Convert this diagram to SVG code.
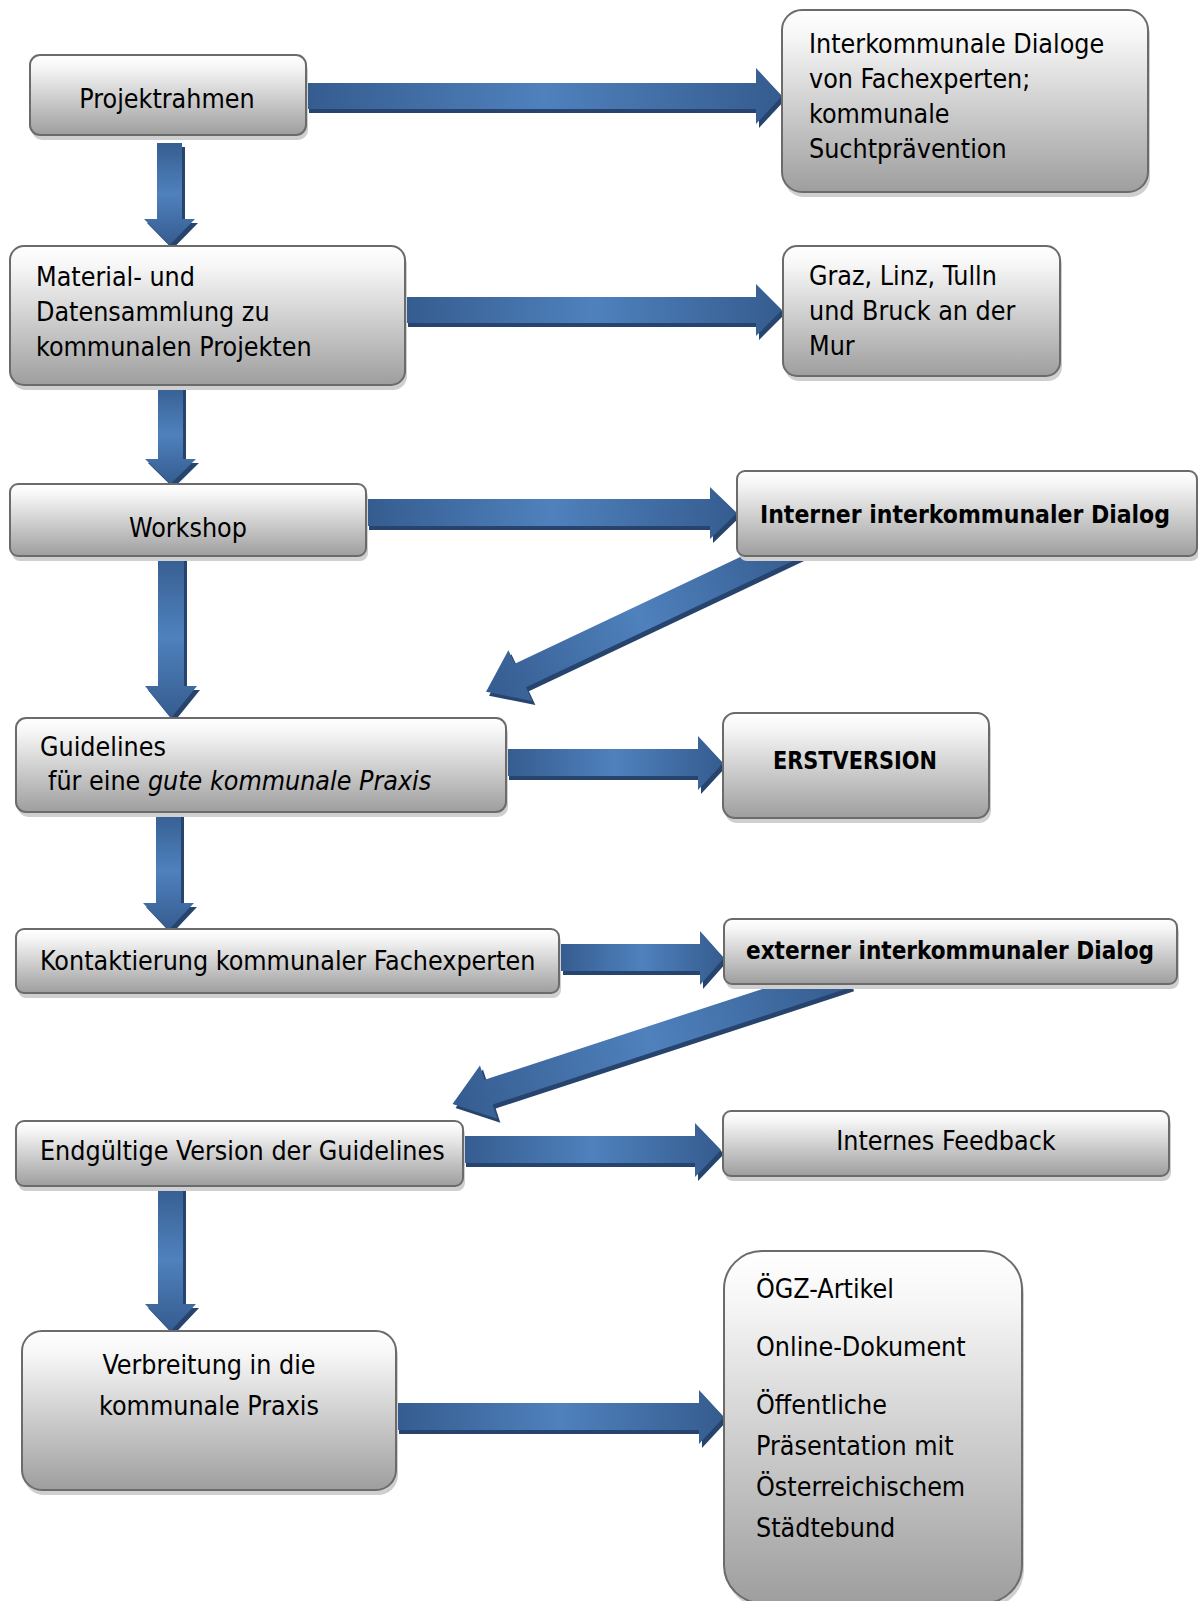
<svg xmlns="http://www.w3.org/2000/svg" width="1198" height="1601" viewBox="0 0 1198 1601">
<defs>
<linearGradient id="boxg" x1="0" y1="0" x2="0" y2="1">
<stop offset="0" stop-color="#ffffff"/>
<stop offset="0.15" stop-color="#f6f6f6"/>
<stop offset="1" stop-color="#9e9e9e"/>
</linearGradient>
<linearGradient id="gh" x1="0" y1="0" x2="1" y2="0">
<stop offset="0" stop-color="#355c8f"/>
<stop offset="0.5" stop-color="#4f81bd"/>
<stop offset="1" stop-color="#355c8f"/>
</linearGradient>
<linearGradient id="gv" x1="0" y1="0" x2="0" y2="1">
<stop offset="0" stop-color="#365e91"/>
<stop offset="0.5" stop-color="#4f81bd"/>
<stop offset="1" stop-color="#355c8f"/>
</linearGradient>
<style>
.box{fill:url(#boxg);stroke:#6b6b6b;stroke-width:2}
.sh{fill:#cfcfcf}
.ah{fill:url(#gh)}
.av{fill:url(#gv)}
.as{fill:#26446d}
text{font-family:"DejaVu Sans Condensed","DejaVu Sans",sans-serif;font-size:26.6px;fill:#000}
.b{font-weight:bold;font-size:25.5px}
.c{text-anchor:middle}
</style>
</defs>
<rect width="1198" height="1601" fill="#ffffff"/>

<g id="connectors">
<g transform="translate(3,4)" class="as">
<polygon points="306,83 756,83 756,68 782,96 756,124 756,109 306,109"/>
<polygon points="157,143 182,143 182,219 195,219 169.5,245 144,219 157,219"/>
<polygon points="405,297 756,297 756,284 782,310 756,336 756,323 405,323"/>
<polygon points="158,385 183,385 183,459 196,459 170.5,484 145,459 158,459"/>
<polygon points="366,499 710,499 710,487 737,513 710,539 710,526 366,526"/>
<polygon points="158,556 184,556 184,686 197,686 171,718 145,686 158,686"/>
<polygon points="506,749 698,749 698,736 723,763 698,790 698,776 506,776"/>
<polygon points="156,812 181,812 181,903 194,903 168.5,930 143,903 156,903"/>
<polygon points="560,944 700,944 700,931 724,958 700,985 700,971 560,971"/>
<polygon points="463,1136 695,1136 695,1123 721,1150 695,1177 695,1163 463,1163"/>
<polygon points="158,1187 183,1187 183,1304 196,1304 170.5,1331 145,1304 158,1304"/>
<polygon points="396,1403 699,1403 699,1390 724,1417 699,1444 699,1430 396,1430"/>
</g>
<g transform="translate(799,549) rotate(154.65)"><polygon class="as" points="0,-13 305,-13 305,-28 343,0 305,28 305,13 0,13"/></g>
<g transform="translate(850,979) rotate(161.9)"><polygon class="as" points="0,-13 377,-13 377,-28 415,0 377,28 377,13 0,13"/></g>

<polygon class="ah" points="306,83 756,83 756,68 782,96 756,124 756,109 306,109"/>
<polygon class="av" points="157,143 182,143 182,219 195,219 169.5,245 144,219 157,219"/>
<polygon class="ah" points="405,297 756,297 756,284 782,310 756,336 756,323 405,323"/>
<polygon class="av" points="158,385 183,385 183,459 196,459 170.5,484 145,459 158,459"/>
<polygon class="ah" points="366,499 710,499 710,487 737,513 710,539 710,526 366,526"/>
<polygon class="av" points="158,556 184,556 184,686 197,686 171,718 145,686 158,686"/>
<polygon class="ah" points="506,749 698,749 698,736 723,763 698,790 698,776 506,776"/>
<polygon class="av" points="156,812 181,812 181,903 194,903 168.5,930 143,903 156,903"/>
<polygon class="ah" points="560,944 700,944 700,931 724,958 700,985 700,971 560,971"/>
<polygon class="ah" points="463,1136 695,1136 695,1123 721,1150 695,1177 695,1163 463,1163"/>
<polygon class="av" points="158,1187 183,1187 183,1304 196,1304 170.5,1331 145,1304 158,1304"/>
<polygon class="ah" points="396,1403 699,1403 699,1390 724,1417 699,1444 699,1430 396,1430"/>
<g transform="translate(796,545) rotate(154.65)"><polygon class="ah" points="0,-13 305,-13 305,-28 343,0 305,28 305,13 0,13"/></g>
<g transform="translate(847,975) rotate(161.9)"><polygon class="ah" points="0,-13 377,-13 377,-28 415,0 377,28 377,13 0,13"/></g>
</g>

<g id="n1">
<rect class="sh" x="32" y="60" width="276" height="80" rx="10"/>
<rect class="box" x="30" y="55" width="276" height="80" rx="10"/>
<text class="c" x="167" y="108">Projektrahmen</text>
</g>
<g id="n2">
<rect class="sh" x="784" y="15" width="366" height="182" rx="20"/>
<rect class="box" x="782" y="10" width="366" height="182" rx="20"/>
<text x="809" y="53">Interkommunale Dialoge</text>
<text x="809" y="88">von Fachexperten;</text>
<text x="809" y="123">kommunale</text>
<text x="809" y="158">Suchtprävention</text>
</g>
<g id="n3">
<rect class="sh" x="12" y="251" width="395" height="139" rx="14"/>
<rect class="box" x="10" y="246" width="395" height="139" rx="14"/>
<text x="36" y="286">Material- und</text>
<text x="36" y="321">Datensammlung zu</text>
<text x="36" y="356">kommunalen Projekten</text>
</g>
<g id="n4">
<rect class="sh" x="785" y="251" width="277" height="130" rx="14"/>
<rect class="box" x="783" y="246" width="277" height="130" rx="14"/>
<text x="809" y="285">Graz, Linz, Tulln</text>
<text x="809" y="320">und Bruck an der</text>
<text x="809" y="355">Mur</text>
</g>
<g id="n5">
<rect class="sh" x="12" y="489" width="356" height="72" rx="8"/>
<rect class="box" x="10" y="484" width="356" height="72" rx="8"/>
<text class="c" x="188" y="537">Workshop</text>
</g>
<g id="n6">
<rect class="sh" x="739" y="476" width="460" height="85" rx="8"/>
<rect class="box" x="737" y="471" width="460" height="85" rx="8"/>
<text class="b" x="760" y="523" textLength="410" lengthAdjust="spacingAndGlyphs">Interner interkommunaler Dialog</text>
</g>
<g id="n7">
<rect class="sh" x="18" y="723" width="490" height="94" rx="10"/>
<rect class="box" x="16" y="718" width="490" height="94" rx="10"/>
<text x="40" y="756">Guidelines</text>
<text x="48" y="790">für eine <tspan font-style="italic">gute kommunale Praxis</tspan></text>
</g>
<g id="n8">
<rect class="sh" x="725" y="718" width="266" height="105" rx="12"/>
<rect class="box" x="723" y="713" width="266" height="105" rx="12"/>
<text class="b" x="773" y="769" textLength="164" lengthAdjust="spacingAndGlyphs">ERSTVERSION</text>
</g>
<g id="n9">
<rect class="sh" x="18" y="934" width="543" height="64" rx="8"/>
<rect class="box" x="16" y="929" width="543" height="64" rx="8"/>
<text x="40" y="970">Kontaktierung kommunaler Fachexperten</text>
</g>
<g id="n10">
<rect class="sh" x="726" y="924" width="453" height="65" rx="8"/>
<rect class="box" x="724" y="919" width="453" height="65" rx="8"/>
<text class="b" x="746" y="959" textLength="408" lengthAdjust="spacingAndGlyphs">externer interkommunaler Dialog</text>
</g>
<g id="n11">
<rect class="sh" x="18" y="1126" width="447" height="65" rx="8"/>
<rect class="box" x="16" y="1121" width="447" height="65" rx="8"/>
<text x="40" y="1160">Endgültige Version der Guidelines</text>
</g>
<g id="n12">
<rect class="sh" x="725" y="1116" width="446" height="65" rx="8"/>
<rect class="box" x="723" y="1111" width="446" height="65" rx="8"/>
<text class="c" x="946" y="1150">Internes Feedback</text>
</g>
<g id="n13">
<rect class="sh" x="24" y="1336" width="374" height="159" rx="20"/>
<rect class="box" x="22" y="1331" width="374" height="159" rx="20"/>
<text class="c" x="209" y="1374">Verbreitung in die</text>
<text class="c" x="209" y="1415">kommunale Praxis</text>
</g>
<g id="n14">
<rect class="sh" x="726" y="1256" width="298" height="352" rx="38"/>
<rect class="box" x="724" y="1251" width="298" height="352" rx="38"/>
<text x="756" y="1298">ÖGZ-Artikel</text>
<text x="756" y="1356">Online-Dokument</text>
<text x="756" y="1414">Öffentliche</text>
<text x="756" y="1455">Präsentation mit</text>
<text x="756" y="1496">Österreichischem</text>
<text x="756" y="1537">Städtebund</text>
</g>
</svg>
